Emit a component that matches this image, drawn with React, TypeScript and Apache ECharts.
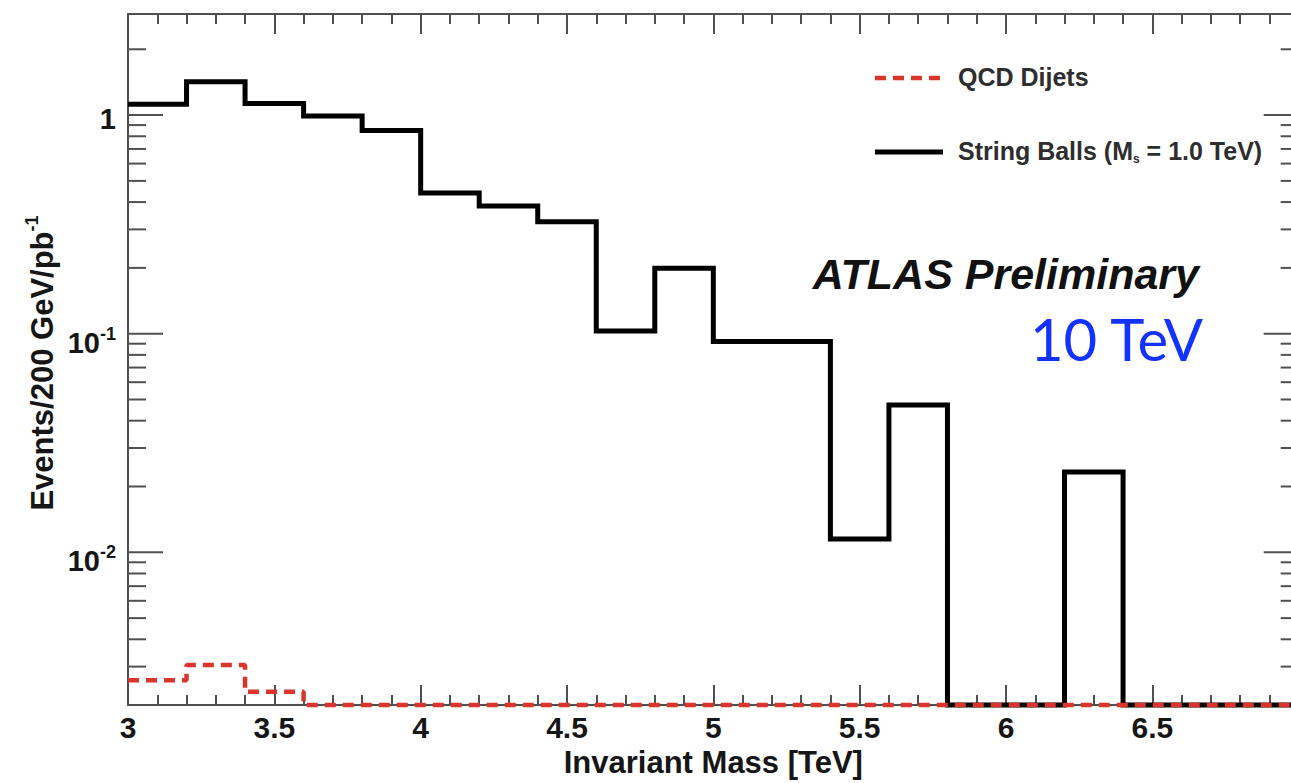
import React, { useEffect, useRef } from "react";
import * as echarts from "echarts";

// Histogram bin edges (TeV), 200 GeV bins from 3 to 7 TeV
const BIN_EDGES = [3.0, 3.2, 3.4, 3.6, 3.8, 4.0, 4.2, 4.4, 4.6, 4.8, 5.0, 5.2, 5.4, 5.6, 5.8, 6.0, 6.2, 6.4, 6.6, 6.8, 7.0];

// Events / 200 GeV / pb^-1 per bin
const STRING_BALLS = [1.12, 1.42, 1.13, 0.99, 0.85, 0.44, 0.384, 0.325, 0.103, 0.199, 0.092, 0.092, 0.0115, 0.0472, 0, 0, 0.0233, 0, 0, 0];
const QCD_DIJETS = [0.0026, 0.00305, 0.0023, 0, 0, 0, 0, 0, 0, 0, 0, 0, 0, 0, 0, 0, 0, 0, 0, 0];

// Legend entries
const LEGEND_QCD = "QCD Dijets";
const LEGEND_SB = "String Balls";

// Axis ranges
const X_MIN = 3;
const X_MAX = 7;
const X_STEP = 0.5;
const Y_MIN = 0.002;
const Y_MAX = 2.9;
const Y_DECADE_EXPONENTS = [-3, -2, -1, 0];

const FONT = '"Liberation Sans", Arial, Helvetica, sans-serif';
const AXIS_COLOR = "#505050";
const TEXT_COLOR = "#161616";
const QCD_COLOR = "#d9352c";
const QCD_DASH = [11, 7];

// Chart canvas is a little wider than the visible page so the right frame edge (x = 7) falls just outside.
const VIEW_W = 1291;
const VIEW_H = 783;
const CHART_W = 1310;

// Histogram outline: one point per bin edge, the last bin repeated at the upper edge.
// Empty bins sit on the frame floor like ROOT draws them on a log scale.
function stepPoints(values: number[]): number[][] {
  return BIN_EDGES.map((edge, i) => {
    const v = values[Math.min(i, values.length - 1)];
    return [edge, Math.max(v, Y_MIN)];
  });
}

// Log-axis tick marks (major at decades, minor at 2..9 x decade)
function yTickMarks(): number[][] {
  const marks: number[][] = [];
  Y_DECADE_EXPONENTS.forEach((e) => {
    for (let k = 1; k <= 9; k++) {
      const v = k * Math.pow(10, e);
      if (v >= Y_MIN * 1.001 && v <= Y_MAX) marks.push([X_MIN, v, k === 1 ? 35 : 18]);
    }
  });
  return marks;
}

function yLabel(value: number): string {
  const e = Math.round(Math.log10(value));
  if (Math.abs(Math.log10(value) - e) > 1e-6) return "";
  if (e === 0) return "{one|1}";
  if (e < 0 && e >= -2) return `{ten|10}{sup|${e}}`;
  return "";
}

export default function App() {
  const ref = useRef<HTMLDivElement>(null);

  useEffect(() => {
    if (!ref.current) return;
    const chart = echarts.init(ref.current, undefined, { renderer: "svg" });

    const labelBase = { fontFamily: FONT, fontWeight: "bold" as const, color: TEXT_COLOR };

    const xAxisCommon = {
      type: "value" as const,
      min: X_MIN,
      max: X_MAX,
      interval: X_STEP,
      axisLine: { show: true, onZero: false, lineStyle: { color: AXIS_COLOR, width: 2 } },
      axisTick: { show: true, inside: true, length: 20, lineStyle: { color: AXIS_COLOR, width: 2 } },
      minorTick: { show: true, splitNumber: 5, length: 10, lineStyle: { color: AXIS_COLOR, width: 2 } },
      splitLine: { show: false },
      minorSplitLine: { show: false },
    };

    const yAxisCommon = {
      type: "log" as const,
      logBase: 10,
      min: Y_MIN,
      max: Y_MAX,
      axisLine: { show: true, onZero: false, lineStyle: { color: AXIS_COLOR, width: 2 } },
      axisTick: { show: false },
      splitLine: { show: false },
    };

    const legendText = { fontFamily: FONT, fontWeight: "bold" as const, fontSize: 25, fill: "#2e2e2e" };

    chart.setOption({
      animation: false,
      backgroundColor: "#ffffff",
      grid: { left: 128, right: CHART_W - 1300, top: 14, bottom: 70, containLabel: false },
      xAxis: [
        {
          ...xAxisCommon,
          position: "bottom",
          name: "Invariant Mass [TeV]",
          nameLocation: "middle",
          nameGap: 40,
          nameTextStyle: { ...labelBase, fontSize: 31 },
          axisLabel: { ...labelBase, fontSize: 30, margin: 7, formatter: (v: number) => String(v) },
        },
        { ...xAxisCommon, position: "top", axisLabel: { show: false } },
      ],
      yAxis: [
        {
          ...yAxisCommon,
          position: "left",
          axisLabel: {
            margin: 12,
            formatter: yLabel,
            rich: {
              one: { ...labelBase, fontSize: 29, padding: [8, 0, 0, 0] },
              ten: { ...labelBase, fontSize: 29, padding: [18, 0, 0, 0] },
              sup: { ...labelBase, fontSize: 18 },
            },
          },
        },
        { ...yAxisCommon, position: "right", axisLabel: { show: false } },
      ],
      series: [
        {
          name: LEGEND_SB,
          type: "line",
          step: "end",
          symbol: "none",
          clip: false,
          data: stepPoints(STRING_BALLS),
          lineStyle: { color: "#000000", width: 5, join: "miter" },
          itemStyle: { color: "#000000" },
          z: 3,
        },
        {
          name: LEGEND_QCD,
          type: "line",
          step: "end",
          symbol: "none",
          clip: false,
          data: stepPoints(QCD_DIJETS),
          lineStyle: { color: QCD_COLOR, width: 4.5, type: QCD_DASH },
          itemStyle: { color: QCD_COLOR },
          z: 4,
        },
        {
          type: "custom",
          coordinateSystem: "cartesian2d",
          silent: true,
          clip: false,
          encode: { x: 0, y: 1 },
          data: yTickMarks(),
          renderItem: (_params: any, api: any) => {
            const v = api.value(1);
            const len = api.value(2);
            const left = api.coord([X_MIN, v]);
            const right = api.coord([X_MAX, v]);
            const style = { stroke: AXIS_COLOR, lineWidth: 2 };
            return {
              type: "group",
              children: [
                { type: "line", shape: { x1: left[0], y1: left[1], x2: left[0] + len, y2: left[1] }, style },
                { type: "line", shape: { x1: right[0] - len, y1: right[1], x2: right[0], y2: right[1] }, style },
              ],
            };
          },
          z: 1,
        },
      ],
      graphic: [
        // y-axis title
        {
          type: "text",
          x: 42,
          y: 363,
          rotation: Math.PI / 2,
          style: {
            text: "{m|Events/200 GeV/pb}{s|-1}",
            align: "center",
            verticalAlign: "middle",
            rich: {
              m: { fontFamily: FONT, fontWeight: "bold", fontSize: 31, fill: TEXT_COLOR },
              s: { fontFamily: FONT, fontWeight: "bold", fontSize: 18, fill: TEXT_COLOR, padding: [0, 0, 20, 0] },
            },
          },
        },
        // legend
        {
          type: "line",
          shape: { x1: 875, y1: 78, x2: 943, y2: 78 },
          style: { stroke: QCD_COLOR, lineWidth: 4.5, lineDash: QCD_DASH },
        },
        {
          type: "text",
          x: 958,
          y: 77,
          style: { ...legendText, text: LEGEND_QCD, verticalAlign: "middle" },
        },
        {
          type: "line",
          shape: { x1: 875, y1: 152, x2: 943, y2: 152 },
          style: { stroke: "#000000", lineWidth: 5 },
        },
        {
          type: "text",
          x: 958,
          y: 151,
          style: {
            text: `{n|${LEGEND_SB} (M}{sub|s}{n| = 1.0 TeV)}`,
            verticalAlign: "middle",
            rich: {
              n: { ...legendText },
              sub: { ...legendText, fontSize: 12, padding: [16, 0, 0, 0] },
            },
          },
        },
        // experiment label
        {
          type: "text",
          x: 1199,
          y: 274,
          style: {
            text: "ATLAS Preliminary",
            align: "right",
            verticalAlign: "middle",
            fontFamily: FONT,
            fontWeight: "bold",
            fontStyle: "italic",
            fontSize: 43,
            fill: "#111111",
          },
        },
        {
          type: "text",
          x: 1203,
          y: 338,
          style: {
            text: "10 TeV",
            align: "right",
            verticalAlign: "middle",
            fontFamily: "Lato, sans-serif",
            fontSize: 58,
            fill: "#1432ff",
          },
        },
      ],
    });

    return () => chart.dispose();
  }, []);

  return (
    <div style={{ position: "absolute", left: 0, top: 0, width: VIEW_W, height: VIEW_H, overflow: "hidden", background: "#ffffff" }}>
      <div ref={ref} style={{ width: CHART_W, height: VIEW_H }} />
    </div>
  );
}
